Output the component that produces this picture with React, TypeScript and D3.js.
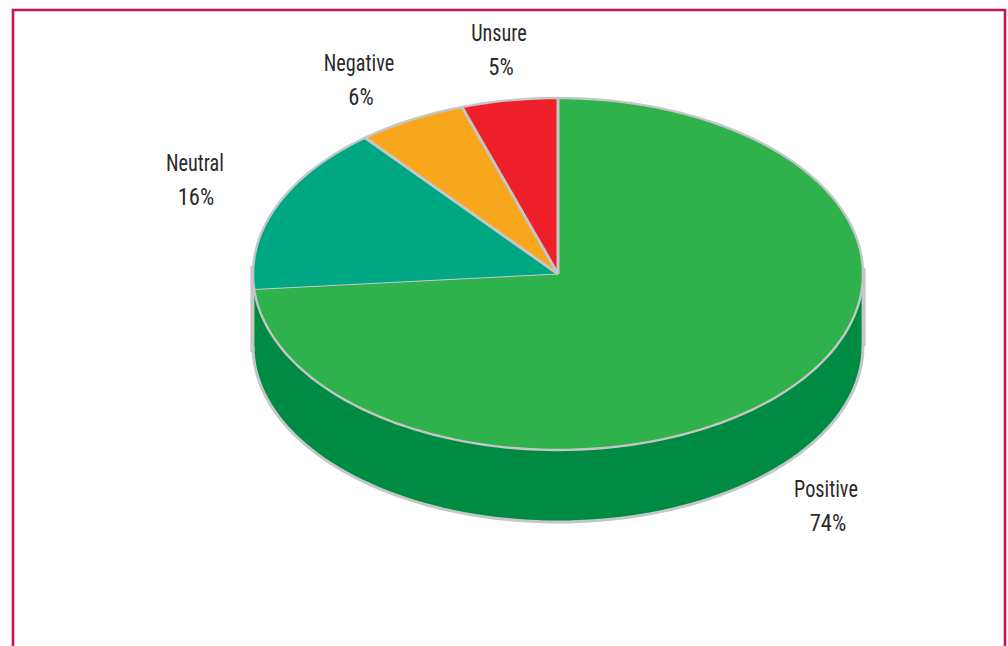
import React from "react";
import * as d3 from "d3";

const categories = ["Positive", "Neutral", "Negative", "Unsure"];
const printedLabels = ["74%", "16%", "6%", "5%"];
const sliceShares = [73.6, 15.5, 5.8, 5.1];
const topColors = ["#2fb14c", "#00a783", "#f8a71c", "#ef1f2a"];
const wallColor = "#008b42";
const edgeColor = "#c4c6c8";
const frameColor = "#c9124f";
const nameAnchors: [number, number][] = [[826, 497], [195, 171], [359, 71], [499, 41]];
const valueAnchors: [number, number][] = [[828, 531], [196, 205], [361, 105], [501, 75]];

const W = 1008, H = 646;
const cx = 558, cy = 274, rx = 305, ry = 176, depth = 72;

const px = d3.scaleLinear().domain([-1, 1]).range([cx - rx, cx + rx]);
const py = d3.scaleLinear().domain([-1, 1]).range([cy - ry, cy + ry]);
const toX = (a: number) => px(Math.sin(a));
const toY = (a: number) => py(-Math.cos(a));

const arcs = d3.pie<number>().sort(null).startAngle(0).endAngle(2 * Math.PI)(sliceShares);
const unitArc = d3.arc<d3.PieArcDatum<number>>().innerRadius(0).outerRadius(1);

const wallAngles = d3.range(90, 270.01, 2).map((d) => (d * Math.PI) / 180);
const rimTop = d3.line<number>().x(toX).y(toY);
const wallPath = d3.line<[number, number]>()([
  ...wallAngles.map((a) => [toX(a), toY(a)] as [number, number]),
  ...wallAngles.slice().reverse().map((a) => [toX(a), toY(a) + depth] as [number, number]),
])! + "Z";
const wallOuter = d3.line<[number, number]>()(
  wallAngles.map((a) => [toX(a), toY(a) + depth] as [number, number])
)!;
const fullRim = d3.range(0, 360.01, 2).map((d) => (d * Math.PI) / 180);

const Label = ({ x, y, text, sx }: { x: number; y: number; text: string; sx: number }) => (
  <text transform={`translate(${x},${y}) scale(${sx},1)`}>{text}</text>
);

export default function App() {
  return (
    <div style={{ position: "absolute", left: 0, top: 0 }}>
      <svg width={W} height={H} style={{ display: "block", background: "#fff" }}>
        <path d={`M13,${H + 5}V10H1005V${H + 5}`} fill="none" stroke={frameColor} strokeWidth={2.6} />
        <path d={wallPath} fill={wallColor} />
        <path d={wallOuter} fill="none" stroke={edgeColor} strokeWidth={3} />
        <line x1={px(-1) - 0.6} x2={px(-1) - 0.6} y1={cy - 8} y2={cy + 78} stroke={edgeColor} strokeWidth={4} />
        <line x1={px(1) + 0.6} x2={px(1) + 0.6} y1={cy - 6} y2={cy + 72} stroke={edgeColor} strokeWidth={4} />
        <g transform={`translate(${cx},${cy}) scale(${rx},${ry})`}>
          {arcs.map((a, i) => (
            <path key={categories[i]} d={unitArc(a)!} fill={topColors[i]} />
          ))}
        </g>
        <path d={rimTop(fullRim)!} fill="none" stroke={edgeColor} strokeWidth={2.4} />
        {arcs.map((a, i) => (
          <line
            key={categories[i]}
            x1={cx}
            y1={cy}
            x2={toX(a.startAngle)}
            y2={toY(a.startAngle)}
            stroke={edgeColor}
            strokeWidth={i === 1 ? 1 : 3}
          />
        ))}
        <g fontFamily="'Liberation Sans Narrow','Roboto Condensed','Liberation Sans',sans-serif" fontSize={23} fill="#2b2a2b" textAnchor="middle">
          {categories.map((c, i) => (
            <g key={c}>
              <Label x={nameAnchors[i][0]} y={nameAnchors[i][1]} text={c} sx={0.88} />
              <Label x={valueAnchors[i][0]} y={valueAnchors[i][1]} text={printedLabels[i]} sx={0.98} />
            </g>
          ))}
        </g>
      </svg>
    </div>
  );
}
